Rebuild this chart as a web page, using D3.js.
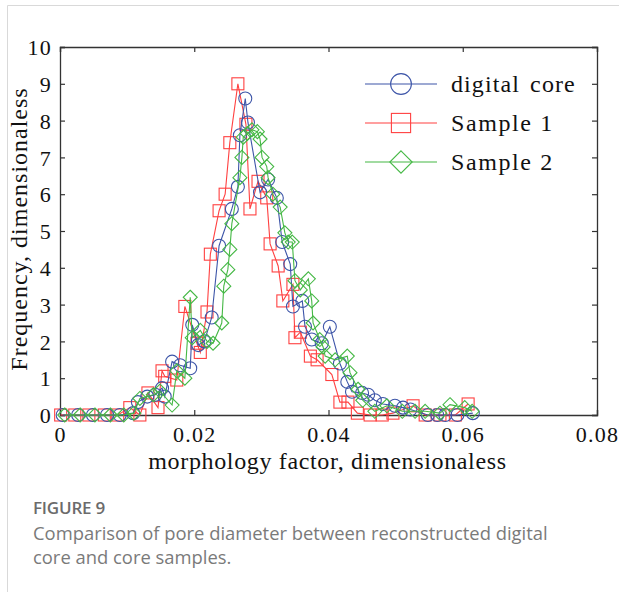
<!DOCTYPE html>
<html>
<head>
<meta charset="utf-8">
<script src="https://cdn.jsdelivr.net/npm/d3@7"></script>
<style>
  body { margin: 0; background: #fff; }
  svg { display: block; }
</style>
</head>
<body>
<div id="chart"></div>
<script>
// data
const coreX = [0.0004,0.0027,0.0049,0.0070,0.0089,0.0109,0.0116,0.0130,0.0142,0.0152,
  0.0156,0.0167,0.0179,0.0194,0.0197,0.0206,0.0215,0.0226,0.0237,0.0256,
  0.0265,0.0268,0.0276,0.0280,0.0298,0.0310,0.0323,0.0331,0.0343,0.0347,
  0.0361,0.0365,0.0375,0.0390,0.0402,0.0417,0.0428,0.0435,0.0450,0.0459,
  0.0469,0.0481,0.0499,0.0511,0.0522,0.0548,0.0562,0.0574,0.0592,0.0615];
const coreY = [0,0,0,0,0,0.05,0.35,0.5,0.55,0.73,
  0.5,1.45,1.35,1.27,2.45,1.9,2.0,2.65,4.6,5.6,
  6.2,7.6,8.6,7.95,6.05,6.4,5.9,4.7,4.1,2.95,
  3.1,2.4,2.05,1.95,2.4,1.4,0.9,0.63,0.6,0.55,
  0.4,0.3,0.25,0.2,0.15,0,0,0,0,0.05];

const s1X = [0.0001,0.0022,0.0043,0.0066,0.0086,0.0104,0.0119,0.0131,0.0146,0.0152,
  0.0156,0.0174,0.0186,0.0204,0.0209,0.0219,0.0224,0.0237,0.0246,0.0253,
  0.0265,0.0277,0.0283,0.0295,0.0308,0.0313,0.0325,0.0332,0.0347,0.0350,
  0.0358,0.0373,0.0383,0.0405,0.0417,0.0429,0.0443,0.0462,0.0480,0.0496,
  0.0526,0.0544,0.0566,0.0589,0.0608];
const s1Y = [0,0,0,0,0,0.2,0,0.6,0.2,1.2,
  1.05,0.95,2.95,1.95,1.7,2.8,4.37,5.55,6.0,7.4,
  9.0,7.9,5.6,6.35,5.9,4.65,4.05,3.1,3.55,2.1,
  2.25,1.6,1.5,1.1,0.35,0.35,0.05,0,0,0.05,
  0.25,0,0,0,0.3];

const s2X = [0.0007,0.0030,0.0052,0.0075,0.0095,0.0110,0.0119,0.0139,0.0149,0.0167,
  0.0174,0.0186,0.0194,0.0197,0.0209,0.0219,0.0228,0.0241,0.0244,0.0250,
  0.0253,0.0256,0.0268,0.0271,0.0273,0.0279,0.0286,0.0294,0.0298,0.0301,
  0.0308,0.0310,0.0317,0.0328,0.0335,0.0340,0.0346,0.0350,0.0358,0.0370,
  0.0375,0.0377,0.0387,0.0392,0.0395,0.0410,0.0428,0.0432,0.0444,0.0451,
  0.0469,0.0487,0.0510,0.0529,0.0544,0.0566,0.0581,0.0603,0.0614];
const s2Y = [0,0,0,0,0,0.05,0.45,0.55,0.65,0.27,
  1.2,1.0,3.2,2.1,2.3,2.0,1.95,2.5,3.5,3.95,
  4.5,5.2,6.45,7.0,7.55,7.65,7.75,7.7,7.5,7.0,
  6.75,6.45,6.0,5.65,4.95,4.7,4.7,3.65,3.4,3.7,
  3.1,2.5,2.05,1.85,1.6,1.5,1.6,1.15,0.7,0.4,
  0.1,0.25,0.1,0.1,0.1,0.05,0.28,0.2,0.1];

const xTicks = [0, 0.02, 0.04, 0.06, 0.08];
const xTickLabels = ["0", "0.02", "0.04", "0.06", "0.08"];
const yTicks = [0,1,2,3,4,5,6,7,8,9,10];
const seriesNames = ["digital core", "Sample 1", "Sample 2"];

const W = 619, H = 592;
const plot = { left: 60, top: 47, right: 597, bottom: 415 };
const serif = "'Liberation Serif', 'Times New Roman', serif";

const svg = d3.select("#chart").append("svg")
  .attr("width", W).attr("height", H);

// card border
svg.append("path")
  .attr("d", "M7.5," + H + " V5.5 H" + W)
  .attr("fill", "none").attr("stroke", "#d9d9d9").attr("stroke-width", 1);

const x = d3.scaleLinear().domain([0, 0.08]).range([plot.left, plot.right]);
const y = d3.scaleLinear().domain([0, 10]).range([plot.bottom, plot.top]);

const axisColor = "#333";

// axes
const gx = svg.append("g")
  .attr("transform", "translate(0," + plot.bottom + ")")
  .call(d3.axisBottom(x).tickValues(xTicks).tickSize(-5).tickPadding(8)
    .tickFormat((d, i) => xTickLabels[i]));
const gxTop = svg.append("g")
  .attr("transform", "translate(0," + plot.top + ")")
  .call(d3.axisTop(x).tickValues(xTicks).tickSize(-5).tickFormat(""));
const gy = svg.append("g")
  .attr("transform", "translate(" + plot.left + ",0)")
  .call(d3.axisLeft(y).tickValues(yTicks).tickSize(-5).tickPadding(8));
const gyRight = svg.append("g")
  .attr("transform", "translate(" + plot.right + ",0)")
  .call(d3.axisRight(y).tickValues(yTicks).tickSize(-5).tickFormat(""));

[gx, gxTop, gy, gyRight].forEach(g => {
  g.select(".domain").attr("stroke", axisColor).attr("stroke-width", 1.3);
  g.selectAll(".tick line").attr("stroke", axisColor).attr("stroke-width", 1.2);
  g.selectAll("text").attr("fill", "#111").style("font-family", serif)
    .style("font-size", "22px").style("letter-spacing", "1.2px");
});
gx.selectAll(".tick text").attr("dy", "0.85em");
gy.selectAll(".tick text").attr("dy", "0.35em");

// axis titles
svg.append("text")
  .attr("x", (plot.left + plot.right) / 2 - 1).attr("y", 469)
  .attr("text-anchor", "middle")
  .style("font-family", serif).style("font-size", "24px").style("letter-spacing", "0.65px")
  .attr("fill", "#111")
  .text("morphology factor, dimensionaless");
svg.append("text")
  .attr("transform", "translate(27," + ((plot.top + plot.bottom) / 2 - 2) + ") rotate(-90)")
  .attr("text-anchor", "middle")
  .style("font-family", serif).style("font-size", "24px").style("letter-spacing", "1px")
  .attr("fill", "#111")
  .text("Frequency, dimensionaless");

// series
const colors = ["#3d55a8", "#ff4040", "#45b845"];
const series = [
  { xs: coreX, ys: coreY, color: colors[0], shape: "circle" },
  { xs: s1X, ys: s1Y, color: colors[1], shape: "square" },
  { xs: s2X, ys: s2Y, color: colors[2], shape: "diamond" }
];

function marker(g, shape, color, big) {
  const k = big ? 1.6 : 1;
  if (shape === "circle") {
    g.append("circle").attr("r", 6.5 * k)
      .attr("fill", "none").attr("stroke", color).attr("stroke-width", 1.1);
  } else if (shape === "square") {
    g.append("rect").attr("x", -6 * k).attr("y", -6 * k).attr("width", 12 * k).attr("height", 12 * k)
      .attr("fill", "none").attr("stroke", color).attr("stroke-width", 1.1);
  } else {
    const r = 7 * k;
    g.append("path").attr("d", `M0,${-r} L${r},0 L0,${r} L${-r},0 Z`)
      .attr("fill", "none").attr("stroke", color).attr("stroke-width", 1.1);
  }
}

const line = d3.line().x(d => x(d[0])).y(d => y(d[1]));

// draw order: sample 1 underneath, then core, then sample 2
[1, 0, 2].forEach(k => {
  const s = series[k];
  const pts = s.xs.map((v, i) => [v, s.ys[i]]);
  svg.append("path").datum(pts)
    .attr("d", line)
    .attr("fill", "none").attr("stroke", s.color).attr("stroke-width", 1.1);
  svg.append("g").selectAll("g")
    .data(pts)
    .join("g")
    .attr("transform", d => "translate(" + x(d[0]) + "," + y(d[1]) + ")")
    .each(function () { marker(d3.select(this), s.shape, s.color, false); });
});

// legend
const legendRows = [84, 123, 162];
series.forEach((s, i) => {
  const g = svg.append("g").attr("transform", "translate(0," + legendRows[i] + ")");
  g.append("line").attr("x1", 365).attr("x2", 437)
    .attr("stroke", s.color).attr("stroke-width", 1.1);
  const m = g.append("g").attr("transform", "translate(401,0)");
  marker(m, s.shape, s.color, true);
  g.append("text").attr("x", 451).attr("y", 8)
    .style("font-family", serif).style("font-size", "24px").attr("fill", "#111")
    .style("letter-spacing", i === 0 ? "1.1px" : "1.6px")
    .style("word-spacing", i === 0 ? "3px" : "0px")
    .text(seriesNames[i]);
});

// caption
const sans = "'Open Sans', 'Noto Sans', sans-serif";
svg.append("text").attr("x", 33).attr("y", 514)
  .style("font-family", sans).style("font-size", "17px").style("font-weight", 600)
  .style("letter-spacing", "-0.2px")
  .attr("fill", "#6b6b6b").text("FIGURE 9");
svg.append("text").attr("x", 33).attr("y", 540)
  .style("font-family", sans).style("font-size", "18.4px")
  .attr("fill", "#7a7a7a").text("Comparison of pore diameter between reconstructed digital");
svg.append("text").attr("x", 33).attr("y", 564)
  .style("font-family", sans).style("font-size", "18.4px")
  .attr("fill", "#7a7a7a").text("core and core samples.");
</script>
</body>
</html>
